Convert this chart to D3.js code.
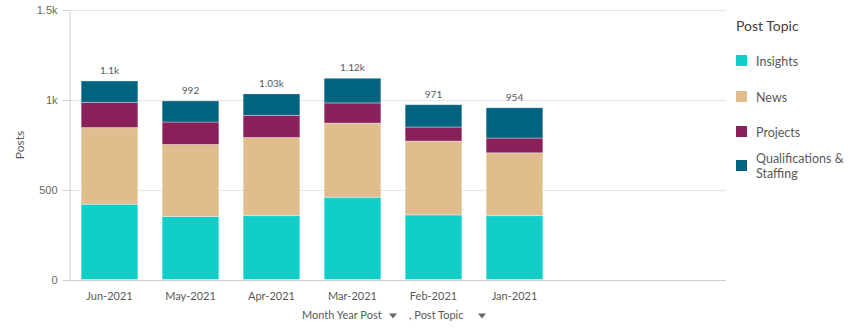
<!DOCTYPE html>
<html>
<head>
<meta charset="utf-8">
<script src="https://cdn.jsdelivr.net/npm/d3@7/dist/d3.min.js"></script>
<style>
  body { margin: 0; background: #fff; }
  svg { font-family: Lato, "Open Sans", sans-serif; }
  .axis path, .axis line { stroke: #d0d0d0; }
  .axis text { fill: #666; font-size: 11px; }
</style>
</head>
<body>
<script>
// monthly post counts, stacked by topic
var months = ["Jun-2021", "May-2021", "Apr-2021", "Mar-2021", "Feb-2021", "Jan-2021"];
var topics = ["Insights", "News", "Projects", "Qualifications & Staffing"];
var insights = [418, 350, 355, 457, 359, 355];
var news = [426, 400, 434, 412, 410, 349];
var projects = [140, 125, 123, 112, 78, 82];
var qualifications = [119, 117, 119, 137, 124, 168];
var colors = ["#11cfc8", "#dfbd8d", "#8a2059", "#006480"];
var yTicks = [0, 500, 1000, 1500];

var width = 866, height = 331;
var svg = d3.select("body").append("svg")
    .attr("width", width).attr("height", height);

var rows = months.map(function(m, i) {
  return {month: m, "Insights": insights[i], "News": news[i],
          "Projects": projects[i], "Qualifications & Staffing": qualifications[i]};
});
var series = d3.stack().keys(topics)(rows);

var x = d3.scaleBand().domain(months).range([69, 69 + 81 * months.length])
    .paddingInner(0.3).paddingOuter(0.15);
var y = d3.scaleLinear().domain([0, 1500]).range([279.5, 9.5]);

// gridlines
svg.append("g").selectAll("line").data(yTicks).enter().append("line")
    .attr("x1", 69).attr("x2", 726)
    .attr("y1", function(d) { return Math.round(y(d)) + 0.5; })
    .attr("y2", function(d) { return Math.round(y(d)) + 0.5; })
    .attr("stroke", function(d) { return d === 0 ? "#cfcfcf" : "#e4e4e4"; });

var fmtTick = function(d) { return d >= 1000 ? d3.format("~")(d / 1000) + "k" : d; };
var yAxis = svg.append("g").attr("class", "axis")
    .attr("transform", "translate(69.5,0.5)")
    .call(d3.axisLeft(y).tickValues(yTicks).tickFormat(fmtTick).tickSize(7).tickPadding(5).tickSizeOuter(0));

svg.append("text")
    .attr("transform", "translate(24,145) rotate(-90)")
    .attr("text-anchor", "middle")
    .attr("fill", "#595959").style("font-size", "12px")
    .text("Posts");

// stacked bars
svg.append("g").selectAll("g").data(series).enter().append("g")
    .attr("fill", function(d, i) { return colors[i]; })
  .selectAll("rect").data(function(d) { return d; }).enter().append("rect")
    .attr("x", function(d) { return x(d.data.month); })
    .attr("width", x.bandwidth())
    .attr("y", function(d) { return y(d[1]); })
    .attr("height", function(d) { return y(d[0]) - y(d[1]); })
    .attr("stroke", "rgba(255,255,255,0.35)")
    .attr("stroke-width", 1);

// totals above bars
var fmtTotal = d3.format(".3~s");
svg.append("g").selectAll("text").data(rows).enter().append("text")
    .attr("x", function(d) { return x(d.month) + x.bandwidth() / 2; })
    .attr("y", function(d) { return y(d3.sum(topics, function(t) { return d[t]; })) - 7; })
    .attr("text-anchor", "middle")
    .attr("fill", "#595959").style("font-size", "10px")
    .text(function(d) { return fmtTotal(d3.sum(topics, function(t) { return d[t]; })); });

// month labels
svg.append("g").selectAll("text").data(months).enter().append("text")
    .attr("x", function(d) { return x(d) + x.bandwidth() / 2; })
    .attr("y", 300)
    .attr("text-anchor", "middle")
    .attr("fill", "#595959").style("font-size", "11px")
    .text(function(d) { return d; });

// dimension title with dropdown markers
var dimTitle = svg.append("g").attr("fill", "#595959").style("font-size", "11px");
dimTitle.append("text").attr("x", 302).attr("y", 319).text("Month Year Post");
dimTitle.append("path").attr("d", "M389,313.5 L397,313.5 L393,318.5 Z").attr("fill", "#666");
dimTitle.append("text").attr("x", 409).attr("y", 319).text(", Post Topic");
dimTitle.append("path").attr("d", "M478,313.5 L486,313.5 L482,318.5 Z").attr("fill", "#666");

// legend
var legend = svg.append("g").attr("transform", "translate(736,0)");
legend.append("text").attr("x", 0).attr("y", 31)
    .attr("fill", "#404040").style("font-size", "14px").text("Post Topic");
var legendY = [61, 97, 132, 166];
var item = legend.selectAll(".item").data(topics).enter().append("g")
    .attr("class", "item")
    .attr("transform", function(d, i) { return "translate(0," + legendY[i] + ")"; });
item.append("rect").attr("x", 0).attr("y", -6).attr("width", 11).attr("height", 11)
    .attr("fill", function(d, i) { return colors[i]; });
item.append("text").attr("x", 20).attr("y", 4.5)
    .attr("fill", "#595959").style("font-size", "12.5px")
    .each(function(d) {
      var t = d3.select(this);
      if (d === "Qualifications & Staffing") {
        t.append("tspan").attr("x", 20).attr("dy", "-0.6em").text("Qualifications &");
        t.append("tspan").attr("x", 20).attr("dy", "1.2em").text("Staffing");
      } else {
        t.text(d);
      }
    });
</script>
</body>
</html>
